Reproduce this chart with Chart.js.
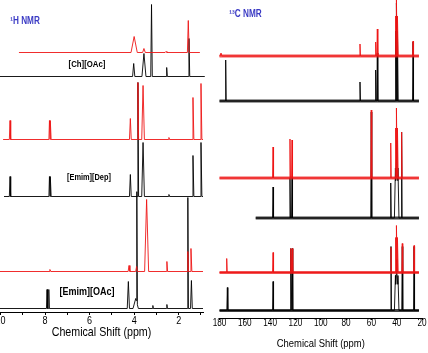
<!DOCTYPE html>
<html>
<head>
<meta charset="utf-8">
<script src="https://cdn.jsdelivr.net/npm/chart.js@4/dist/chart.umd.min.js"></script>
<style>
  body { margin: 0; background: #fff; width: 428px; height: 353px; overflow: hidden; position: relative; }
  #hBox { position: absolute; left: -7px; top: 0; width: 221px; height: 353px; }
  #cBox { position: absolute; left: 213px; top: 0; width: 215px; height: 353px; }
</style>
</head>
<body>
<div id="hBox"><canvas id="hChart"></canvas></div>
<div id="cBox"><canvas id="cChart"></canvas></div>
<script>
// Tick values of the two shift axes (ppm)
const hTicks = [10, 9, 8, 7, 6, 5, 4, 3, 2, 1];
const cTicks = [180, 160, 140, 120, 100, 80, 60, 40, 20];

// 1H spectra, peaks as [shift ppm, height, half width ppm]
const hChOAcRed = [[4.00, 16, 0.14], [3.56, 4, 0.06], [2.57, 1, 0.04], [1.57, 32, 0.04]];
const hChOAcBlack = [[4.02, 13, 0.05], [3.56, 23, 0.09], [3.22, 72, 0.035], [2.54, 9, 0.03], [1.54, 38, 0.035]];
const hEmimDepRed = [[9.57, 19, 0.03], [7.80, 19, 0.025], [7.75, 19, 0.025], [4.17, 21, 0.04], [3.83, 57, 0.03],
  [3.60, 54, 0.06], [2.44, 2, 0.03], [1.36, 42, 0.04], [1.00, 56, 0.04]];
const hEmimDepBlack = [[9.57, 20, 0.03], [7.80, 20, 0.025], [7.75, 20, 0.025], [4.17, 22, 0.04], [3.83, 114, 0.03],
  [3.60, 54, 0.06], [2.44, 2, 0.03], [1.36, 41, 0.04], [1.00, 54, 0.04]];
const hEmimOAcRed = [[7.78, 2, 0.04], [4.23, 6, 0.04], [3.89, 5, 0.04], [3.44, 72, 0.09], [2.53, 10, 0.03],
  [1.59, 20, 0.03], [1.45, 23, 0.04]];
const hEmimOAcBlack = [[7.91, 19, 0.025], [7.83, 19, 0.025], [4.26, 27, 0.05], [3.93, 10, 0.12], [3.88, 111, 0.025],
  [3.16, 3, 0.02], [2.53, 4, 0.02], [1.59, 111, 0.025], [1.43, 28, 0.04]];

// stacking offsets and recorded ranges (ppm) of the 1H traces, top to bottom
const hOffsets = [259.5, 235.5, 172.5, 115.5, 40.5, 3.5];
const hStart = [9.17, 10.02, 9.88, 9.84, 10.02, 10.02];
const hEnd = [1.05, 0.83, 0.91, 0.91, 0.91, 0.91];

// 13C spectra, same layout
const cChOAcRed = [[178.8, 3, 0.8], [69.0, 12, 0.4], [56.6, 14, 0.4], [55.3, 27, 0.4], [40.8, 40, 0.4],
  [40.0, 56, 0.4], [39.2, 40, 0.4], [27.1, 15, 0.4]];
const cChOAcBlack = [[175.1, 41, 0.4], [69.0, 19, 0.4], [56.6, 31, 0.4], [55.3, 48, 0.4], [40.8, 70, 0.4],
  [40.0, 98, 0.4], [39.2, 70, 0.4], [27.1, 59, 0.4]];
const cEmimDepRed = [[137.7, 31, 0.4], [124.3, 39, 0.4], [122.7, 38, 0.4], [60.1, 68, 0.4], [44.7, 35, 0.4],
  [40.8, 50, 0.4], [40.0, 70, 0.4], [39.2, 50, 0.4], [36.1, 46, 0.4]];
const cEmimDepBlack = [[137.7, 31, 0.4], [124.3, 40, 0.4], [122.7, 40, 0.4], [60.1, 106, 0.4], [44.7, 35, 0.4],
  [41.0, 50, 0.8], [40.0, 78, 0.8], [39.0, 50, 0.8], [36.1, 86, 0.4]];
const cEmimOAcRed = [[174.3, 14, 0.4], [137.7, 20, 0.4], [123.7, 24, 0.4], [122.5, 24, 0.4], [44.5, 25, 0.4],
  [40.8, 35, 0.4], [40.0, 47, 0.4], [39.2, 35, 0.4], [35.6, 29, 0.4], [26.3, 27, 0.4]];
const cEmimOAcBlack = [[173.8, 23, 0.4], [137.7, 29, 0.4], [123.7, 62, 0.4], [122.5, 62, 0.4], [44.5, 64, 0.4],
  [41.0, 35, 0.8], [40.0, 51, 0.8], [39.0, 35, 0.8], [35.6, 64, 0.4], [26.3, 64, 0.4]];

const cOffsets = [262, 217, 140, 100, 45.5, 7.5];
const cStart = [180, 180, 180, 151.4, 180, 180];
const cEnd = [22.4, 22.4, 22.4, 22.4, 22.4, 22.4];

const RED = '#ee1515';
const BLACK = '#000000';
const FONT = "'Liberation Sans', Arial, sans-serif";
const SQUEEZE = 0.82; // the source figure is horizontally compressed

// peaks drawn as sticks with a triangular foot, summed where they overlap
function trace(peaks, from, to, offset) {
    let xs = [from, to];
    peaks.forEach(p => xs.push(p[0] - p[2], p[0], p[0] + p[2]));
    xs = xs.filter(x => x <= from && x >= to).sort((a, b) => b - a);
    return xs.map(x => {
        let y = offset;
        peaks.forEach(p => {
            const d = Math.abs(x - p[0]);
            if (d < p[2]) y += p[1] * (1 - d / p[2]);
        });
        return { x: x, y: y };
    });
}

function line(data, color, width) {
    return { data: data, borderColor: color, borderWidth: width, pointRadius: 0, tension: 0, clip: false, fill: false };
}

function squeezedText(ctx, text, x, y, font, color) {
    ctx.save();
    ctx.translate(x, y);
    ctx.scale(SQUEEZE, 1);
    ctx.font = font;
    ctx.fillStyle = color;
    ctx.textAlign = 'center';
    ctx.textBaseline = 'middle';
    ctx.fillText(text, 0, 0);
    ctx.restore();
}

// tick labels, axis title and panel labels, in condensed lettering
const panelText = {
    id: 'panelText',
    afterDraw(chart, args, opts) {
        const ctx = chart.ctx;
        const xs = chart.scales.x;
        opts.ticks.forEach(v => {
            if (v % opts.labelEvery === 0) {
                squeezedText(ctx, String(v), xs.getPixelForValue(v), opts.tickY, opts.tickFont + 'px ' + FONT, '#000');
            }
        });
        const mid = (chart.chartArea.left + chart.chartArea.right) / 2;
        squeezedText(ctx, 'Chemical Shift (ppm)', mid, opts.titleY, opts.titleFont + 'px ' + FONT, '#000');
        opts.items.forEach(t => squeezedText(ctx, t.text, t.x, t.y, t.font, t.color));
    }
};

function axisOptions(min, max, ticks, tickLen, boxHeight) {
    return {
        type: 'linear', reverse: true, min: min, max: max,
        afterBuildTicks: s => { s.ticks = ticks.map(v => ({ value: v })); },
        afterFit: s => { s.height = boxHeight; },
        ticks: { display: false, autoSkip: false },
        grid: { drawOnChartArea: false, drawTicks: true, tickLength: tickLen, color: '#000' },
        border: { display: true, color: '#000', width: 1 },
        title: { display: false }
    };
}

// 1H NMR panel
const hSpectra = [hChOAcRed, hChOAcBlack, hEmimDepRed, hEmimDepBlack, hEmimOAcRed, hEmimOAcBlack];
const hDatasets = hSpectra.map((peaks, i) =>
    line(trace(peaks, hStart[i], hEnd[i], hOffsets[i]), i % 2 === 0 ? RED : BLACK, 0.9));

new Chart(document.getElementById('hChart'), {
    type: 'line',
    data: { datasets: hDatasets },
    options: {
        responsive: true, maintainAspectRatio: false, animation: false,
        layout: { padding: { left: 7, right: 11, top: 0, bottom: 0 } },
        plugins: {
            legend: { display: false },
            tooltip: { enabled: false },
            panelText: {
                ticks: hTicks, labelEvery: 2, tickY: 321, tickFont: 11, titleY: 332, titleFont: 13,
                items: [
                    { text: '\u00B9H NMR', x: 32, y: 21, font: 'bold 10px ' + FONT, color: '#3a3ac4' },
                    { text: '[Ch][OAc]', x: 94, y: 64, font: 'bold 9.5px ' + FONT, color: '#000' },
                    { text: '[Emim][Dep]', x: 96, y: 178, font: 'bold 9px ' + FONT, color: '#000' },
                    { text: '[Emim][OAc]', x: 94, y: 292, font: 'bold 11px ' + FONT, color: '#000' }
                ]
            }
        },
        scales: {
            x: axisOptions(0.91, 10.02, hTicks, 3, 41),
            y: { display: false, min: 0, max: 312 }
        }
    },
    plugins: [panelText]
});

// 13C NMR panel: a noise band along each baseline, then the peaks
const cSpectra = [cChOAcRed, cChOAcBlack, cEmimDepRed, cEmimDepBlack, cEmimOAcRed, cEmimOAcBlack];
const cDatasets = [];
cSpectra.forEach((peaks, i) => {
    const color = i % 2 === 0 ? RED : BLACK;
    cDatasets.push(line([{ x: cStart[i], y: cOffsets[i] }, { x: cEnd[i], y: cOffsets[i] }],
        i % 2 === 0 ? 'rgba(238,21,21,0.75)' : 'rgba(0,0,0,0.75)', 3));
    cDatasets.push(line(trace(peaks, cStart[i], cEnd[i], cOffsets[i]), color, 0.9));
});

new Chart(document.getElementById('cChart'), {
    type: 'line',
    data: { datasets: cDatasets },
    options: {
        responsive: true, maintainAspectRatio: false, animation: false,
        layout: { padding: { left: 6.5, right: 6, top: 0, bottom: 0 } },
        plugins: {
            legend: { display: false },
            tooltip: { enabled: false },
            panelText: {
                ticks: cTicks, labelEvery: 20, tickY: 323, tickFont: 10, titleY: 344, titleFont: 11.5,
                items: [
                    { text: '\u00B9\u00B3C NMR', x: 32.5, y: 14, font: 'bold 10px ' + FONT, color: '#3a3ac4' }
                ]
            }
        },
        scales: {
            x: axisOptions(20, 180, cTicks, 2, 35),
            y: { display: false, min: 0, max: 318 }
        }
    },
    plugins: [panelText]
});
</script>
</body>
</html>
